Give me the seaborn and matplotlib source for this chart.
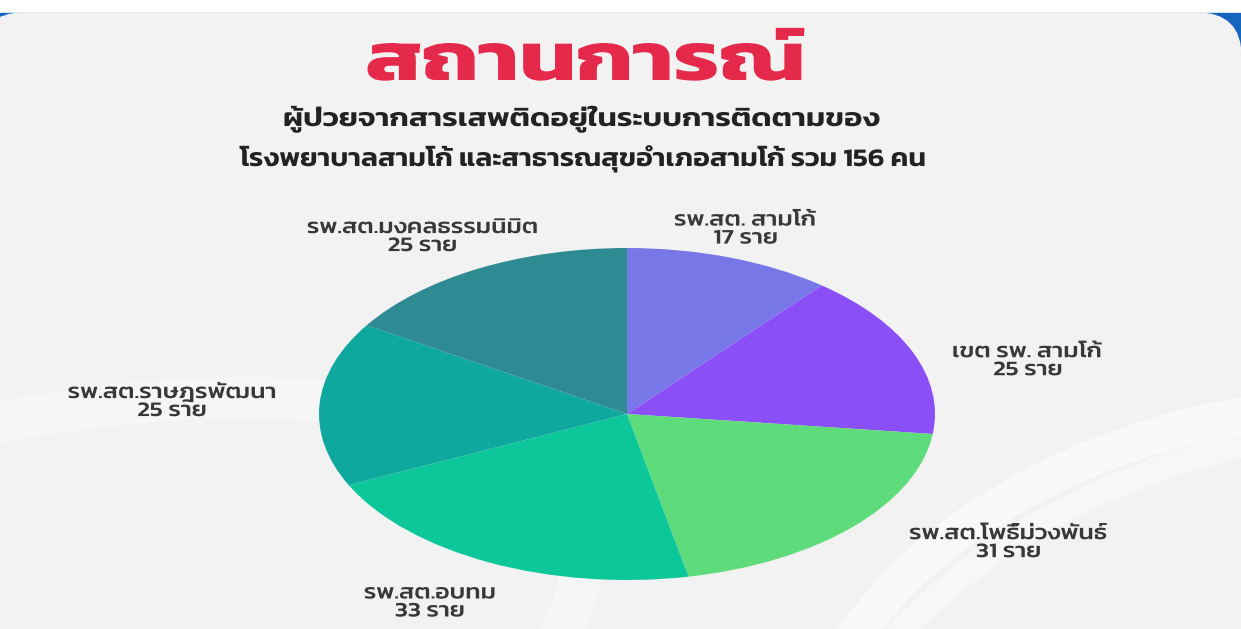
import numpy as np
import matplotlib
matplotlib.use("Agg")
import matplotlib.pyplot as plt
from matplotlib.patches import FancyBboxPatch, Rectangle, Ellipse, PathPatch
from matplotlib.textpath import TextPath
from matplotlib.font_manager import FontProperties
from matplotlib.transforms import Affine2D
import seaborn as sns

# data
labels = ["รพ.สต. สามโก้", "เขต รพ. สามโก้", "รพ.สต.โพธิ์ม่วงพันธ์",
          "รพ.สต.อบทม", "รพ.สต.ราษฎรพัฒนา", "รพ.สต.มงคลธรรมนิมิต"]
values = [17, 25, 31, 33, 25, 25]
unit = "ราย"
colors = ["#7777E8", "#8A4FF7", "#5EDB7A", "#0CC79A", "#0FA89E", "#2E8B93"]

title = "สถานการณ์"
subtitle1 = "ผู้ป่วยจากสารเสพติดอยู่ในระบบการติดตามของ"
subtitle2 = "โรงพยาบาลสามโก้ และสาธารณสุขอำเภอสามโก้ รวม 156 คน"

sns.set_theme(style="white")
thai = ["Kanit", "Prompt", "Sarabun", "Noto Sans Thai", "DejaVu Sans"]
plt.rcParams["font.family"] = thai

fig = plt.figure(figsize=(12.41, 6.29), dpi=100)
fig.patch.set_facecolor("white")

# background axes in pixel units (y down)
W, H = 1241, 629
bg = fig.add_axes([0, 0, 1, 1], zorder=0)
bg.set_xlim(0, W)
bg.set_ylim(H, 0)
bg.axis("off")
bg.add_patch(Rectangle((0, 13), W, 80, color="#1565C0"))
bg.add_patch(FancyBboxPatch((-20, 13), W + 20, H + 100, boxstyle="round,pad=0,rounding_size=44",
                            color="#F2F2F2"))
for (ex, ey, w, h, a, lw) in [(1250, 700, 900, 560, 0.55, 26), (1300, 760, 1000, 640, 0.45, 18),
                              (-50, 700, 1300, 520, 0.35, 30)]:
    bg.add_patch(Ellipse((ex, ey), w, h, angle=-15, fill=False, ec="white", lw=lw, alpha=a))

# text overlay axes (same pixel units, above the pie)
tx = fig.add_axes([0, 0, 1, 1], zorder=3)
tx.set_xlim(0, W)
tx.set_ylim(H, 0)
tx.axis("off")
tx.patch.set_alpha(0)


def body_size(h_px, fp):
    # em size so that a plain Thai consonant is h_px tall
    ref = TextPath((0, 0), "น", size=1, prop=fp).get_extents()
    return h_px / ref.height


def stretched(x, base, s, h_px, fp, color, stretch=None, width=None):
    # screenshot text is stretched sideways, so draw it as a scaled path
    size = body_size(h_px, fp)
    tp = TextPath((0, 0), s, size=size, prop=fp)
    ext = tp.get_extents()
    if stretch is None:
        stretch = width / ext.width
    tr = Affine2D().translate(-(ext.x0 + ext.x1) / 2, 0).scale(stretch, -1).translate(x, base)
    tx.add_patch(PathPatch(tr.transform_path(tp), fc=color, ec="none", lw=0))
    return stretch


fp_title = FontProperties(family="Kanit", weight="bold")
fp_sub = FontProperties(family="Kanit", weight="semibold")
fp_lab = FontProperties(family="Kanit", weight="medium")

stretched(586, 80, title, 37, fp_title, "#E5294B", width=437)
stretched(582, 126, subtitle1, 14, fp_sub, "#222222", width=595)
stretched(582, 166, subtitle2, 14, fp_sub, "#222222", width=685)

# pie (elliptical, like the stretched screenshot)
cx, cy, rx, ry = 627, 414, 308, 166
ax = fig.add_axes([(cx - rx) / W, 1 - (cy + ry) / H, 2 * rx / W, 2 * ry / H], zorder=2)
wedges, _ = ax.pie(values, colors=colors, startangle=90, counterclock=False,
                   wedgeprops=dict(linewidth=0))
ax.set_xlim(-1, 1)
ax.set_ylim(-1, 1)
ax.set_aspect("auto")
ax.axis("off")

# data labels around the pie
lab_h = 11.5
lab_size = body_size(lab_h, fp_lab)
nat = TextPath((0, 0), labels[5], size=lab_size, prop=fp_lab).get_extents().width
lab_stretch = 229 / nat
dist = [1.18, 1.34, 1.46, 1.30, 1.48, 1.26]
nudge = [0.6, -8, 10.7, -3, 0.5, 3]
for w, lab, v, d, n in zip(wedges, labels, values, dist, nudge):
    ang = np.deg2rad((w.theta1 + w.theta2) / 2 + n)
    px = cx + rx * d * np.cos(ang)
    py = cy - ry * d * np.sin(ang)
    stretched(px, py - 9 + lab_h / 2, lab, lab_h, fp_lab, "#383838", stretch=lab_stretch)
    stretched(px, py + 9 + lab_h / 2, f"{v} {unit}", lab_h, fp_lab, "#383838", stretch=lab_stretch)

fig.savefig("out.png", dpi=100)
